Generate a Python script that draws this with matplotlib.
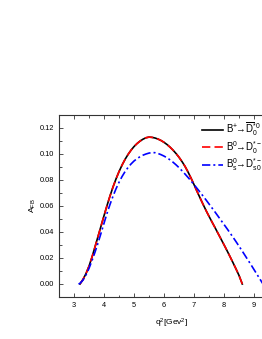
import matplotlib
matplotlib.use("Agg")
import matplotlib.pyplot as plt
from matplotlib.ticker import MultipleLocator, FixedLocator, FormatStrFormatter

plt.rcParams['font.family'] = ['Liberation Sans', 'DejaVu Sans']
plt.rcParams['mathtext.fontset'] = 'custom'
plt.rcParams['mathtext.rm'] = 'Liberation Sans'
plt.rcParams['mathtext.it'] = 'Liberation Sans'

# B+ -> D0*0 (B0 -> D0*- is practically identical)
q2_bp = [3.2, 3.3, 3.4, 3.5, 3.6, 3.7, 3.8, 3.9, 4.0, 4.1, 4.2, 4.3, 4.4, 4.5, 4.6, 4.7,
         4.8, 4.9, 5.0, 5.1, 5.2, 5.3, 5.4, 5.5, 5.6, 5.7, 5.8, 5.9, 6.0, 6.1, 6.2, 6.3,
         6.4, 6.5, 6.6, 6.7, 6.8, 6.9, 7.0, 7.1, 7.2, 7.3, 7.4, 7.5, 7.6, 7.7, 7.8, 7.9,
         8.0, 8.1, 8.2, 8.3, 8.4, 8.5, 8.61]
afb_bp = [0.0, 0.0035, 0.008, 0.0137, 0.0207, 0.0285, 0.0365, 0.0445, 0.0525, 0.0603,
          0.0677, 0.0746, 0.0808, 0.0864, 0.0914, 0.0958, 0.0996, 0.1029, 0.1057, 0.1080,
          0.1099, 0.1114, 0.1125, 0.1130, 0.1128, 0.1123, 0.1115, 0.1104, 0.1090, 0.1073,
          0.1053, 0.1030, 0.1004, 0.0975, 0.0942, 0.0905, 0.0862, 0.0815, 0.0765, 0.0713,
          0.0663, 0.0614, 0.0566, 0.0521, 0.0477, 0.0434, 0.0390, 0.0346, 0.0302, 0.0257,
          0.0211, 0.0164, 0.0116, 0.0066, 0.0]
q2_b0 = list(q2_bp)
afb_b0 = list(afb_bp)
# Bs0 -> Ds0*-
q2_bs = [3.15, 3.2, 3.3, 3.4, 3.5, 3.6, 3.7, 3.8, 3.9, 4.0, 4.1, 4.2, 4.3, 4.4, 4.5, 4.6,
         4.7, 4.8, 4.9, 5.0, 5.1, 5.2, 5.3, 5.4, 5.5, 5.6, 5.7, 5.8, 5.9, 6.0, 6.1, 6.2,
         6.3, 6.4, 6.5, 6.6, 6.7, 6.8, 6.9, 7.0, 7.1, 7.2, 7.3, 7.4, 7.5, 7.6, 7.7, 7.8,
         7.9, 8.0, 8.1, 8.2, 8.3, 8.4, 8.5, 8.6, 8.7, 8.8, 8.9, 9.0, 9.1, 9.2, 9.3]
afb_bs = [0.0, 0.0005, 0.003, 0.007, 0.012, 0.018, 0.0245, 0.0315, 0.039, 0.0467, 0.0543,
          0.0612, 0.0675, 0.0732, 0.0782, 0.0826, 0.0864, 0.0896, 0.0923, 0.0946, 0.0964,
          0.0979, 0.0991, 0.1000, 0.1007, 0.1011, 0.1010, 0.1004, 0.0995, 0.0984, 0.0971,
          0.0955, 0.0937, 0.0917, 0.0895, 0.0871, 0.0846, 0.0820, 0.0793, 0.0765, 0.0736,
          0.0707, 0.0677, 0.0647, 0.0616, 0.0585, 0.0554, 0.0522, 0.0490, 0.0458, 0.0426,
          0.0393, 0.0360, 0.0326, 0.0291, 0.0256, 0.0220, 0.0184, 0.0148, 0.0111, 0.0074,
          0.0037, 0.0]

labels = [r'$\mathregular{B^{+}\!\!\rightarrow\!\overline{D}{}_0^{*0}}$',
          r'$\mathregular{B^{0}\!\!\rightarrow\!D_0^{*-}}$',
          r'$\mathregular{B_s^{0}\!\!\rightarrow\!D_{s0}^{*-}}$']
x_ticks = [3, 4, 5, 6, 7, 8, 9]

fig = plt.figure(figsize=(2.62, 3.39), dpi=100)
ax = fig.add_axes([59/262, 1-297/339, 225/262, 182/339])

ax.plot(q2_bp, afb_bp, color='black', lw=1.2, label=labels[0])
ax.plot(q2_b0, afb_b0, color='red', lw=1.2, ls=(0, (5, 2.5)), label=labels[1])
ax.plot(q2_bs, afb_bs, color='blue', lw=1.2, ls=(0, (5, 1.8, 1.2, 1.8)), label=labels[2])

ax.set_xlim(2.5, 10.0)
ax.set_ylim(-0.01, 0.13)
ax.xaxis.set_major_locator(FixedLocator(x_ticks))
ax.xaxis.set_minor_locator(MultipleLocator(0.5))
ax.yaxis.set_major_locator(MultipleLocator(0.02))
ax.yaxis.set_minor_locator(MultipleLocator(0.01))
ax.yaxis.set_major_formatter(FormatStrFormatter('%.2f'))
ax.tick_params(which='both', direction='in', top=True, right=False, labelsize=5.3, width=0.6,
               color='#333333', pad=3.5)
ax.tick_params(which='major', length=3)
ax.tick_params(which='minor', length=1.8)
for s in ax.spines.values():
    s.set_linewidth(0.8)
    s.set_color('#333333')

ax.set_xlabel(r'q$^{2}$[Gev$^{2}$]', fontsize=6, labelpad=6)
ax.set_ylabel(r'A$_{\mathregular{FB}}$', fontsize=6, labelpad=1.5)

ax.legend(loc='upper left', bbox_to_anchor=(202/262, 1-121/339), bbox_transform=fig.transFigure,
          frameon=False, fontsize=7, handlelength=2.2, handletextpad=0.25, labelspacing=0.05,
          borderaxespad=0, borderpad=0)

fig.savefig('out.png', dpi=100)
